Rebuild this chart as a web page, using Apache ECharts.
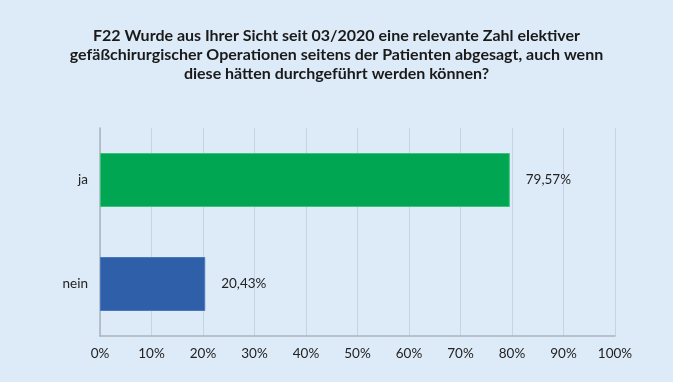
<!DOCTYPE html>
<html><head><meta charset="utf-8">
<script src="https://cdn.jsdelivr.net/npm/echarts@6/dist/echarts.min.js"></script>
<style>html,body{margin:0;padding:0;background:#ddeaf7;}#c{width:673px;height:382px;}</style>
</head><body><div id="c"></div>
<script>
const titleLines = [
  "F22 Wurde aus Ihrer Sicht seit 03/2020 eine relevante Zahl elektiver",
  "gefäßchirurgischer Operationen seitens der Patienten abgesagt, auch wenn",
  "diese hätten durchgeführt werden können?"
];
const categories = ["ja", "nein"];
const values = [79.57, 20.43];
const barColors = ["#00a651", "#2e5fa8"];
const borderColors = ["#3cc07a", "#4a78bd"];

const chart = echarts.init(document.getElementById('c'));
chart.setOption({
  backgroundColor: "#ddeaf7",
  animation: false,
  title: {
    text: titleLines.join("\n"),
    left: "center",
    top: 21,
    textStyle: {fontFamily: "Lato", fontWeight: "bold", fontSize: 16, color: "#1a1a1a", lineHeight: 19}
  },
  grid: {left: 100, right: 58, top: 128, bottom: 46},
  xAxis: {
    type: "value", min: 0, max: 100, interval: 10,
    axisLabel: {formatter: "{value}%", color: "#222", fontFamily: "Lato", fontSize: 13.5, margin: 11},
    axisLine: {show: true, lineStyle: {color: "#a9b4c0", width: 1.5}},
    axisTick: {show: false},
    splitLine: {show: true, lineStyle: {color: "#c5d3e2", width: 1}}
  },
  yAxis: {
    type: "category", data: categories, inverse: true,
    axisLabel: {color: "#222", fontFamily: "Lato", fontSize: 13.5, margin: 12},
    axisLine: {show: true, lineStyle: {color: "#a9b4c0", width: 1.5}},
    axisTick: {show: false}
  },
  series: [{
    type: "bar",
    barWidth: 54,
    data: values.map((v, i) => ({value: v, itemStyle: {color: barColors[i], borderColor: borderColors[i], borderWidth: 1}})),
    label: {
      show: true, position: "right", distance: 16,
      color: "#222", fontFamily: "Lato", fontSize: 13.5,
      formatter: p => p.value.toFixed(2).replace(".", ",") + "%"
    }
  }]
});
</script></body></html>
